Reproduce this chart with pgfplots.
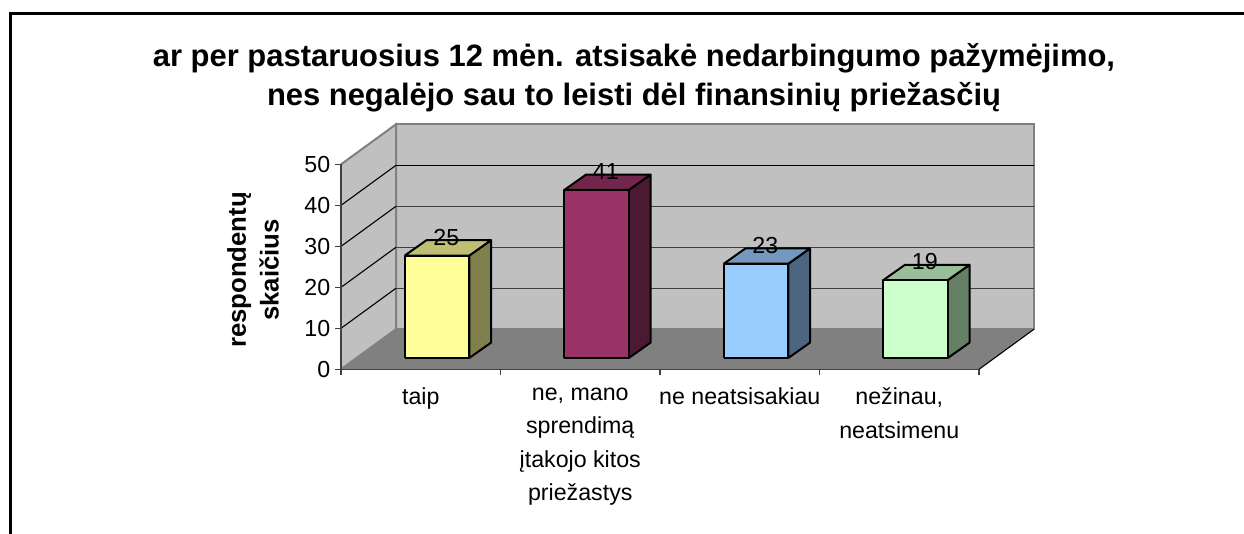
\documentclass[border=0pt]{standalone}
\usepackage{fontspec}
\setmainfont{Liberation Sans}
\usepackage{pgfplots}
\pgfplotsset{compat=1.18}
\usepackage{pgfplotstable}

% one reference pixel = 0.75pt, page is 1244x534 px
\newcommand{\px}{0.75pt}

% bars: width, depth, distance of the front face from the front of the floor
\newcommand{\BW}{0.4044}
\newcommand{\BDX}{0.136}
\newcommand{\BDY}{3.74}
\newcommand{\BASE}{2.76}

\definecolor{wall}{HTML}{C0C0C0}
\definecolor{flr}{HTML}{808080}
\definecolor{baryellow}{HTML}{FFFF99}
\definecolor{barmaroon}{HTML}{993366}
\definecolor{barblue}{HTML}{99CCFF}
\definecolor{bargreen}{HTML}{CCFFCC}

\pgfplotstableread{
cat val lab
0.4 25 25
1.4 41 41
2.4 23 23
3.4 19 19
}\bardata

% unit faces of a box: u across, d in depth, h up
\pgfplotstableread{
u d h
0 0 0
1 0 0
1 0 1
0 0 1
0 0 0
}\frontface
\pgfplotstableread{
u d h
1 0 0
1 1 0
1 1 1
1 0 1
1 0 0
}\sideface
\pgfplotstableread{
u d h
0 0 1
1 0 1
1 1 1
0 1 1
0 0 1
}\topface

\newcommand{\boxface}[4]{% face, x, value, colour
  \addplot[fill=#4,draw=black,line width=2*\px,line join=round] table[
    x expr=#2+\thisrow{u}*\BW+\thisrow{d}*\BDX,
    y expr=\BASE+\thisrow{h}*#3+\thisrow{d}*\BDY] {#1};
}
\newcommand{\threedbar}[3]{% x, value, colour
  \boxface{\sideface}{#1}{#2}{#3!50!black}
  \boxface{\topface}{#1}{#2}{#3!75!black}
  \boxface{\frontface}{#1}{#2}{#3}
}
\newcommand{\gridl}[3]{% value, value on back wall, colour on back wall
  \addplot[black,line width=1.1*\px] coordinates {(0,#1) (0.3448,#2)};
  \addplot[#3,line width=1.4*\px] coordinates {(0.3448,#2) (4.3448,#2)};
}

\begin{document}
\begin{tikzpicture}
\useasboundingbox (0,0) rectangle (1244*\px,534*\px);
\draw[black,line width=2.5*\px] (10.5*\px,0) -- (10.5*\px,520.5*\px) -- (1244*\px,520.5*\px);
\begin{axis}[
  at={(341*\px,164.7*\px)}, anchor=south west,
  scale only axis, width=693*\px, height=245*\px,
  xmin=0, xmax=4.3448, ymin=0, ymax=59.78,
  clip=false,
  axis line style={draw=none},
  tick pos=left, tick align=outside,
  ytick={0,10,20,30,40,50},
  xtick={0.5,1.5,2.5,3.5},
  minor xtick={0,1,2,3,4},
  xticklabels={taip,{ne, mano\\sprendimą\\įtakojo kitos\\priežastys},ne neatsisakiau,{nežinau,\\neatsimenu}},
  major tick length=6*\px, minor tick length=6*\px,
  tick style={color=black!75,line width=1.2*\px},
  major x tick style={draw=none},
  tick label style={font=\fontsize{17.4}{25}\selectfont},
  xticklabel style={align=center,anchor=north,yshift=-8*\px},
  /pgf/number format/assume math mode=true,
  title={ar per pastaruosius 12 mėn. atsisakė nedarbingumo pažymėjimo,\\nes negalėjo sau to leisti dėl finansinių priežasčių},
  title style={at={(0.4228,1.157)},anchor=center,align=center,font=\bfseries\fontsize{23.2}{29.5}\selectfont},
  ylabel={respondentų\\skaičius},
  ylabel style={at={(-0.127,0.405)},anchor=center,align=center,font=\bfseries\fontsize{19.3}{24.5}\selectfont},
]
  % walls and floor
  \addplot[fill=wall,draw=flr,line width=2*\px] coordinates {(0.3448,9.78) (4.3448,9.78) (4.3448,59.78) (0.3448,59.78) (0.3448,9.78)};
  \addplot[fill=wall,draw=flr,line width=2*\px] coordinates {(0,0) (0.3448,9.78) (0.3448,59.78) (0,50)};
  \addplot[fill=flr,draw=none] coordinates {(0,0) (4,0) (4.3448,9.78) (0.3448,9.78) (0,0)};
  \gridl{10}{19.78}{black!75}
  \gridl{20}{29.78}{black!75}
  \gridl{30}{39.78}{black!75}
  \gridl{40}{49.78}{black}
  \addplot[black,line width=1.1*\px] coordinates {(4,0) (4.3448,9.78)};
  \addplot[black!75,line width=1.5*\px] coordinates {(0,50) (0,0) (4,0)};
  % bars
  \threedbar{0.4}{25}{baryellow}
  \threedbar{1.4}{41}{barmaroon}
  \threedbar{2.4}{23}{barblue}
  \threedbar{3.4}{19}{bargreen}
  % value labels
  \addplot[draw=none,mark=none,point meta=explicit symbolic,
    nodes near coords,
    nodes near coords style={anchor=center,font=\fontsize{17.4}{18}\selectfont,text=black}]
    table[x expr=\thisrow{cat}+0.26,y expr=\thisrow{val}+7.2,meta=lab] {\bardata};
\end{axis}
\end{tikzpicture}
\end{document}
